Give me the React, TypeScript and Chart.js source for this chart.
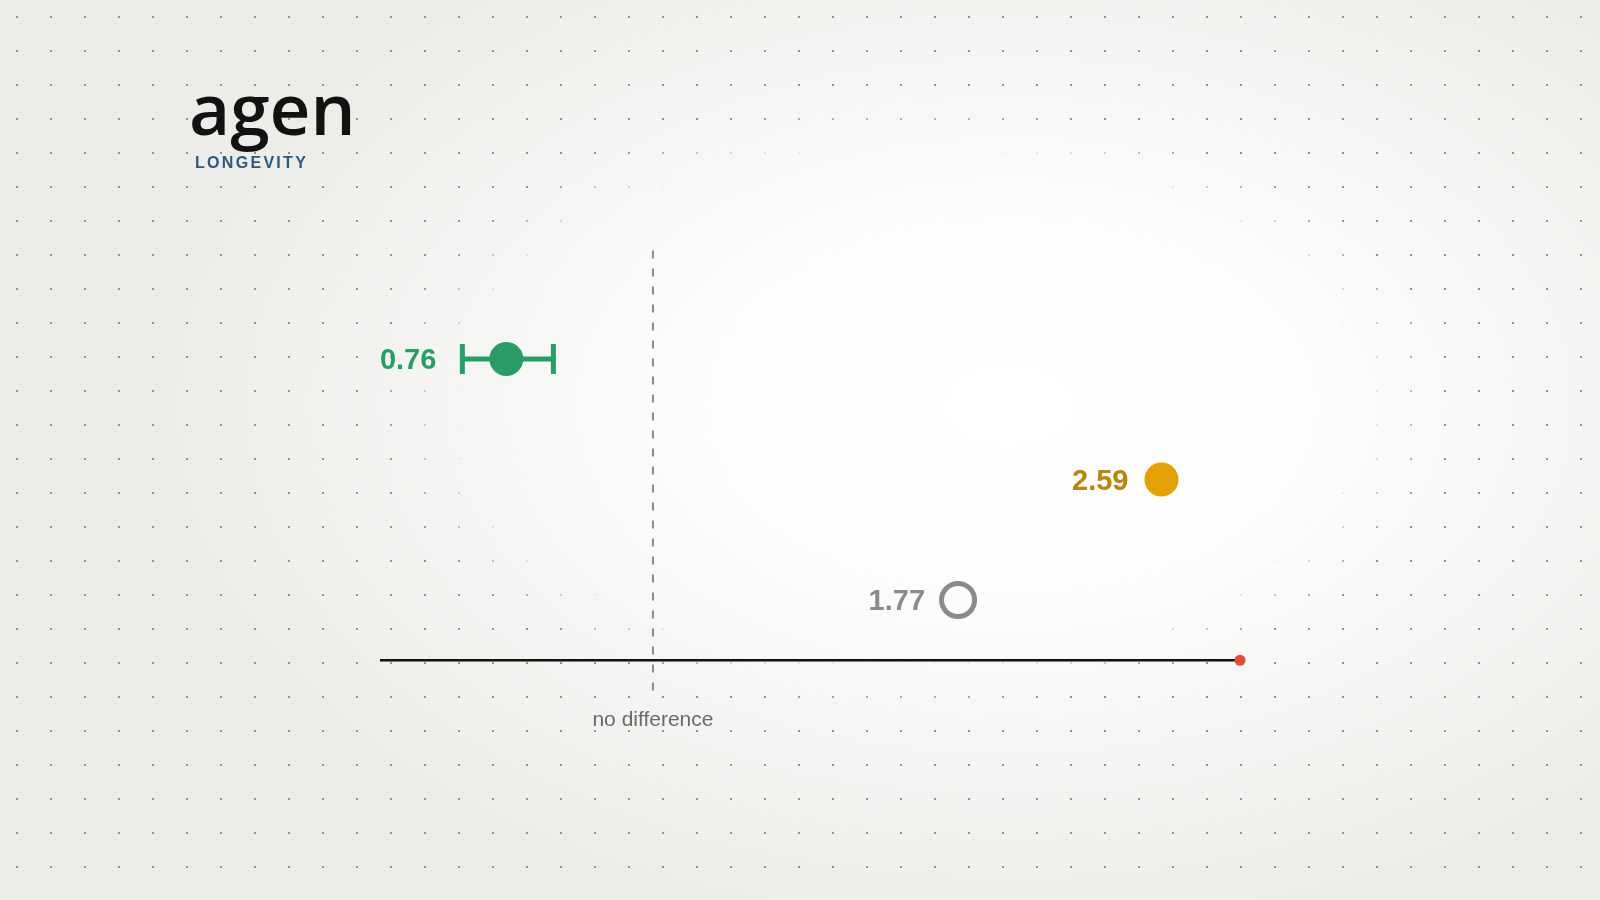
import React, { useEffect, useRef } from "react";
import { Chart, registerables } from "chart.js";

Chart.register(...registerables);

// ---- data ----
const seriesLabels = ["0.76", "2.59", "1.77"];
const estimates = [0.76, 2.59, 1.77];
const rowPositions = [3, 2, 1];
const ciLow: (number | null)[] = [0.7, null, null];
const ciHigh: (number | null)[] = [0.83, null, null];
const axisRange = [0.6, 3];
const rowRange = [0, 4];
const axisRow = 0.5;
const referenceValue = 1;
const referenceSpan = [3.9, 0.24];
const referenceLabel = "no difference";
const brandName = "agen";
const brandTagline = "LONGEVITY";

// ---- styles ----
const markerFill = ["#2a9d66", "#e3a105", "rgba(0,0,0,0)"];
const markerStroke = ["#2a9d66", "#e3a105", "#8b8b8b"];
const markerStrokeWidth = [0, 0, 5];
const markerRadius = [17, 17, 16.5];
const labelColor = ["#2a9d66", "#b8860e", "#8b8b8b"];

const backgroundPlugin = {
  id: "bgDots",
  beforeDraw(chart: any) {
    const { ctx, width, height } = chart;
    ctx.save();
    ctx.fillStyle = "#ecece8";
    ctx.fillRect(0, 0, width, height);
    // soft radial glow
    ctx.save();
    ctx.translate(1010, 405);
    ctx.scale(1, 0.62);
    const g = ctx.createRadialGradient(0, 0, 0, 0, 0, 850);
    g.addColorStop(0, "rgba(255,255,255,1)");
    g.addColorStop(0.35, "rgba(255,255,255,0.88)");
    g.addColorStop(0.7, "rgba(255,255,255,0.4)");
    g.addColorStop(1, "rgba(255,255,255,0)");
    ctx.fillStyle = g;
    ctx.fillRect(-1200, -1200, 2400, 2400);
    ctx.restore();

    // dot grid, faded out in an elliptical centre region
    const cx = 910, cy = 405, rx = 520, ry = 295;
    for (let y = 17; y < height; y += 34) {
      for (let x = 17; x < width; x += 34) {
        const r = Math.sqrt(((x - cx) / rx) ** 2 + ((y - cy) / ry) ** 2);
        const a = Math.max(0, Math.min(1, (r - 0.86) / 0.17));
        if (a <= 0) continue;
        ctx.fillStyle = `rgba(145,145,145,${a.toFixed(3)})`;
        ctx.fillRect(x - 1, y - 1, 2, 2);
      }
    }

    // brand
    ctx.fillStyle = "#121212";
    ctx.font = "600 71px 'Open Sans'";
    ctx.textBaseline = "alphabetic";
    ctx.textAlign = "left";
    ctx.fillText(brandName, 189, 135);
    ctx.fillStyle = "#2b5a7e";
    ctx.font = "bold 16px 'Liberation Sans'";
    try {
      (ctx as any).letterSpacing = "2.3px";
    } catch (e) {}
    ctx.fillText(brandTagline, 195, 167.5);
    try {
      (ctx as any).letterSpacing = "0px";
    } catch (e) {}
    ctx.restore();
  },
};

const labelsPlugin = {
  id: "valueLabels",
  afterDatasetsDraw(chart: any) {
    const { ctx } = chart;
    const xs = chart.scales.x;
    const ys = chart.scales.y;
    ctx.save();
    ctx.textAlign = "right";
    ctx.textBaseline = "alphabetic";
    ctx.font = "bold 29px 'Liberation Sans'";
    seriesLabels.forEach((lab, i) => {
      const y = ys.getPixelForValue(rowPositions[i]);
      const lo = ciLow[i];
      const right = lo != null ? xs.getPixelForValue(lo) - 26 : xs.getPixelForValue(estimates[i]) - 33;
      ctx.fillStyle = labelColor[i];
      ctx.fillText(lab, right, y + 10.4);
    });
    ctx.textAlign = "center";
    ctx.font = "21px 'Liberation Sans'";
    ctx.fillStyle = "#6a6a6a";
    ctx.fillText(referenceLabel, xs.getPixelForValue(referenceValue), ys.getPixelForValue(referenceSpan[1]) + 34);
    ctx.restore();
  },
};

export default function App() {
  const ref = useRef<HTMLCanvasElement | null>(null);

  useEffect(() => {
    if (!ref.current) return;
    const ciData: { x: number; y: number }[] = [];
    ciLow.forEach((lo, i) => {
      const hi = ciHigh[i];
      if (lo != null && hi != null) {
        ciData.push({ x: lo, y: rowPositions[i] }, { x: hi, y: rowPositions[i] });
      }
    });
    const chart = new Chart(ref.current, {
      type: "scatter",
      data: {
        datasets: [
          {
            type: "scatter",
            data: estimates.map((v, i) => ({ x: v, y: rowPositions[i] })),
            backgroundColor: markerFill,
            borderColor: markerStroke,
            borderWidth: markerStrokeWidth,
            pointRadius: markerRadius,
            clip: false,
          } as any,
          {
            type: "line",
            data: ciData,
            borderColor: "#2a9d66",
            borderWidth: 5,
            pointStyle: "line",
            pointRotation: 90,
            pointRadius: 15,
            pointBorderWidth: 5,
            pointBorderColor: "#2a9d66",
            pointBackgroundColor: "#2a9d66",
            clip: false,
          } as any,
          {
            type: "scatter",
            data: [{ x: axisRange[1], y: axisRow }],
            backgroundColor: "#e04e35",
            borderColor: "#e04e35",
            borderWidth: 0,
            pointRadius: 5.5,
            clip: false,
          } as any,
          {
            type: "line",
            data: [
              { x: axisRange[0], y: axisRow },
              { x: axisRange[1], y: axisRow },
            ],
            borderColor: "#111111",
            borderWidth: 2.5,
            pointRadius: 0,
            clip: false,
          } as any,
          {
            type: "line",
            data: [
              { x: referenceValue, y: referenceSpan[0] },
              { x: referenceValue, y: referenceSpan[1] },
            ],
            borderColor: "#8a8a8a",
            borderWidth: 2,
            borderDash: [8, 10],
            pointRadius: 0,
            clip: false,
          } as any,
        ],
      },
      options: {
        responsive: false,
        animation: false,
        devicePixelRatio: 1,
        layout: { padding: { left: 380, right: 360, top: 238.5, bottom: 179.5 } },
        scales: {
          x: { type: "logarithmic", min: axisRange[0], max: axisRange[1], display: false },
          y: { type: "linear", min: rowRange[0], max: rowRange[1], display: false },
        },
        plugins: { legend: { display: false }, tooltip: { enabled: false } },
        events: [],
      } as any,
      plugins: [backgroundPlugin, labelsPlugin],
    });
    return () => chart.destroy();
  }, []);

  return (
    <div style={{ position: "absolute", left: 0, top: 0, width: 1600, height: 900 }}>
      <canvas ref={ref} width={1600} height={900} style={{ display: "block", width: 1600, height: 900 }} />
    </div>
  );
}
